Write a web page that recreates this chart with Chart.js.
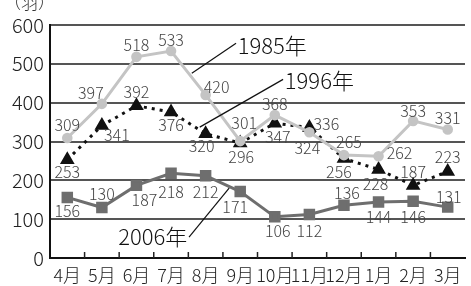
<!DOCTYPE html>
<html>
<head>
<meta charset="utf-8">
<script src="https://cdn.jsdelivr.net/npm/chart.js@4"></script>
<style>
html, body { margin: 0; padding: 0; background: #fff; overflow: hidden; }
#wrap { width: 474px; height: 286px; }
</style>
</head>
<body>
<div id="wrap"><canvas id="chart"></canvas></div>
<script>
const months = ['4月', '5月', '6月', '7月', '8月', '9月', '10月', '11月', '12月', '1月', '2月', '3月'];
const y1985 = [309, 397, 518, 533, 420, 301, 368, 324, 265, 262, 353, 331];
const y1996 = [253, 341, 392, 376, 320, 296, 347, 336, 256, 228, 187, 223];
const y2006 = [156, 130, 187, 218, 212, 171, 106, 112, 136, 144, 146, 131];
const yTicks = [0, 100, 200, 300, 400, 500, 600];
const unitLabel = '（羽）';

// label offsets (px) relative to each point
const off1985 = [[0,-13],[-11,-11],[0,-12],[0,-11],[11,-8],[4,-18],[0,-11],[-2,16],[5,-13],[21,-3],[0,-10],[0,-12]];
const off1996 = [[0,12],[15,9],[0,-14],[0,13],[-4,12],[1,14],[3,14],[17,-4],[-5,13],[-3,14],[0,-13],[0,-14]];
const off2006 = [[0,14],[0,-14],[8,15],[0,19],[0,16],[-5,15],[3,14],[0,16],[3,-12],[0,15],[0,16],[1,-10]];

// series name callouts: [text, textIdx, textVal, fromIdx, fromVal, toIdx, toVal, align]
const callouts = [
  ['1985年', 4.93, 548, 4.88, 553, 3.6, 476, 'left'],
  ['1996年', 6.29, 458, 6.24, 460, 3.83, 337, 'left'],
  ['2006年', 3.47, 54, 3.52, 54, 4.68, 180, 'right']
];

const FONT = '"Noto Sans CJK JP", "Noto Sans", sans-serif';

const extras = {
  id: 'extras',
  afterDatasetsDraw(chart) {
    const ctx = chart.ctx;
    const xs = chart.scales.x, ys = chart.scales.y;
    const area = chart.chartArea;
    ctx.save();
    // inward tick marks between months
    ctx.strokeStyle = '#222';
    ctx.lineWidth = 1.5;
    for (let i = 0; i < months.length - 1; i++) {
      const x = (xs.getPixelForValue(i) + xs.getPixelForValue(i + 1)) / 2;
      ctx.beginPath();
      ctx.moveTo(x, area.bottom);
      ctx.lineTo(x, area.bottom - 6);
      ctx.stroke();
    }
    // value labels
    ctx.font = '300 16px ' + FONT;
    ctx.fillStyle = '#444';
    ctx.textAlign = 'center';
    ctx.textBaseline = 'middle';
    const offs = [off1985, off1996, off2006];
    chart.data.datasets.forEach((ds, di) => {
      ds.data.forEach((v, i) => {
        const x = xs.getPixelForValue(i) + offs[di][i][0];
        const y = ys.getPixelForValue(v) + offs[di][i][1];
        ctx.fillText(String(v), x, y);
      });
    });
    // callouts
    ctx.font = '300 22px ' + FONT;
    ctx.fillStyle = '#111';
    ctx.strokeStyle = '#111';
    ctx.lineWidth = 1.2;
    callouts.forEach(c => {
      ctx.beginPath();
      ctx.moveTo(xs.getPixelForValue(c[3]), ys.getPixelForValue(c[4]));
      ctx.lineTo(xs.getPixelForValue(c[5]), ys.getPixelForValue(c[6]));
      ctx.stroke();
      ctx.textAlign = c[7];
      ctx.fillText(c[0], xs.getPixelForValue(c[1]), ys.getPixelForValue(c[2]));
    });
    // unit label
    ctx.font = '300 17px ' + FONT;
    ctx.fillStyle = '#333';
    ctx.textAlign = 'left';
    ctx.fillText(unitLabel, 4, 3);
    ctx.restore();
  }
};

new Chart(document.getElementById('chart').getContext('2d'), {
  type: 'line',
  data: {
    labels: months,
    datasets: [
      {
        label: '1985年',
        data: y1985,
        borderColor: '#c4c4c4',
        backgroundColor: '#c4c4c4',
        borderWidth: 3,
        pointStyle: 'circle',
        pointRadius: 3.8,
        tension: 0
      },
      {
        label: '1996年',
        data: y1996,
        borderColor: '#111',
        backgroundColor: '#111',
        borderWidth: 3,
        borderDash: [3, 5],
        pointStyle: 'triangle',
        pointRadius: 5.5,
        tension: 0
      },
      {
        label: '2006年',
        data: y2006,
        borderColor: '#6e6e6e',
        backgroundColor: '#6e6e6e',
        borderWidth: 3,
        pointStyle: 'rect',
        pointRadius: 6,
        tension: 0
      }
    ]
  },
  options: {
    responsive: true,
    maintainAspectRatio: false,
    animation: false,
    layout: { padding: { top: 25, right: 0, left: 0, bottom: 0 } },
    plugins: {
      legend: { display: false },
      tooltip: { enabled: false }
    },
    scales: {
      x: {
        offset: true,
        grid: { display: false, drawTicks: false },
        border: { display: true, color: '#111', width: 2 },
        ticks: {
          autoSkip: false,
          maxRotation: 0,
          padding: 6,
          color: '#222',
          font: { family: FONT, size: 18, weight: 300 }
        },
        afterFit(s) { s.height = 28; }
      },
      y: {
        min: 0,
        max: 600,
        afterBuildTicks(s) { s.ticks = yTicks.map(v => ({ value: v })); },
        grid: { color: '#555', lineWidth: 2, drawTicks: false },
        border: { display: true, color: '#111', width: 2 },
        ticks: {
          padding: 6,
          color: '#222',
          font: { family: FONT, size: 20, weight: 300 }
        },
        afterFit(s) { s.width = 50; }
      }
    }
  },
  plugins: [extras]
});
</script>
</body>
</html>
